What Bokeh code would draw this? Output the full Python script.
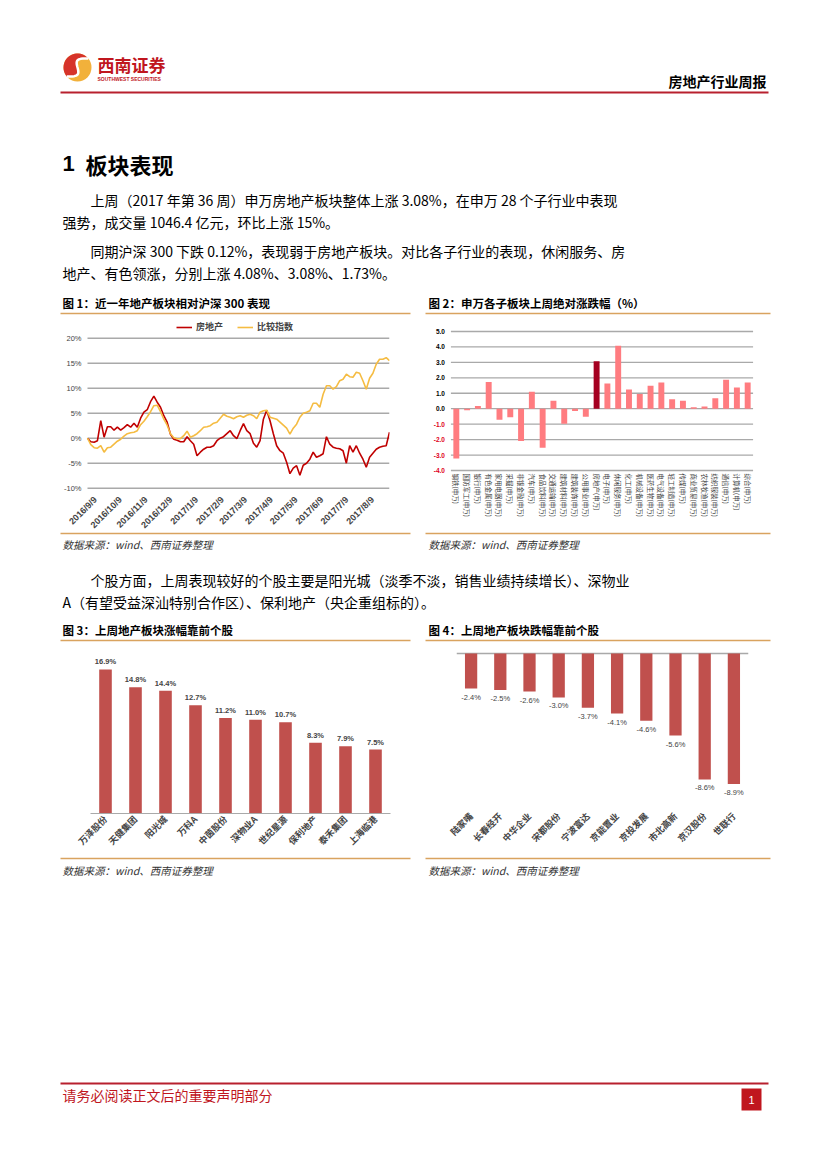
import math
import numpy as np
import pandas as pd
from bokeh.plotting import figure
from bokeh.layouts import column, row
from bokeh.models import (Range1d, FactorRange, FixedTicker, Legend, LegendItem, LabelSet,
                          ColumnDataSource)
from bokeh.core.properties import value
from bokeh.embed import file_html
from bokeh.resources import INLINE

# ---------------- data ----------------
line_dates = [
    "2016-09-09", "2016-09-13", "2016-09-17", "2016-09-21", "2016-09-25", "2016-09-29",
    "2016-10-03", "2016-10-07", "2016-10-11", "2016-10-15", "2016-10-19", "2016-10-23",
    "2016-10-27", "2016-10-31", "2016-11-04", "2016-11-08", "2016-11-12", "2016-11-16",
    "2016-11-20", "2016-11-24", "2016-11-28", "2016-12-02", "2016-12-06", "2016-12-10",
    "2016-12-14", "2016-12-18", "2016-12-22", "2016-12-26", "2016-12-30", "2017-01-03",
    "2017-01-07", "2017-01-11", "2017-01-15", "2017-01-19", "2017-01-23", "2017-01-27",
    "2017-01-31", "2017-02-04", "2017-02-08", "2017-02-12", "2017-02-16", "2017-02-20",
    "2017-02-24", "2017-02-28", "2017-03-04", "2017-03-08", "2017-03-12", "2017-03-16",
    "2017-03-20", "2017-03-24", "2017-03-28", "2017-04-01", "2017-04-05", "2017-04-09",
    "2017-04-13", "2017-04-17", "2017-04-21", "2017-04-25", "2017-04-29", "2017-05-03",
    "2017-05-07", "2017-05-11", "2017-05-15", "2017-05-19", "2017-05-23", "2017-05-27",
    "2017-05-31", "2017-06-04", "2017-06-08", "2017-06-12", "2017-06-16", "2017-06-20",
    "2017-06-24", "2017-06-28", "2017-07-02", "2017-07-06", "2017-07-10", "2017-07-14",
    "2017-07-18", "2017-07-22", "2017-07-26", "2017-07-30", "2017-08-03", "2017-08-07",
    "2017-08-11", "2017-08-15", "2017-08-19", "2017-08-23", "2017-08-27", "2017-08-31",
    "2017-09-04", "2017-09-08"]
# 房地产 (relative to HS300, %)
re_rel = [0.0, -0.7, -0.8, -0.5, 3.5, 0.2, 2.3, 2.3, 1.6, 2.2,
          1.6, 2.1, 2.7, 2.2, 3.0, 2.2, 4.0, 5.2, 5.7, 7.3,
          8.4, 7.2, 6.2, 4.5, 3.2, 0.8, -0.2, -0.4, -0.7, -0.7,
          0.3, -0.5, -1.2, -3.5, -2.8, -2.2, -1.8, -1.8, -1.5, -0.5,
          0.0, 0.3, 0.9, 1.5, 0.5, -0.1, 1.5, 2.9, 1.5, 0.9,
          -1.0, -1.8, -0.5, 3.8, 5.6, 3.5, 0.9, -1.5, -2.5, -3.0,
          -4.8, -7.1, -6.0, -5.5, -7.4, -5.4, -5.0, -4.2, -2.8, -3.8,
          -3.5, -3.1, 0.3, -1.2, -1.8, -2.0, -2.1, -2.5, -5.0, -1.5,
          -2.8, -1.5, -3.0, -4.2, -5.8, -3.8, -3.0, -2.2, -1.8, -1.6,
          -1.5, 1.2]
# 比较指数
hs_rel = [0.0, -1.3, -1.9, -2.0, -1.5, -2.8, -1.9, -1.8, -1.2, -0.6,
          -0.2, 0.4, 0.9, 1.1, 1.2, 1.5, 2.7, 3.4, 4.3, 5.3,
          6.5, 6.6, 5.3, 3.8, 2.6, 0.9, 0.1, -0.1, -0.1, 0.5,
          1.4, 0.2, 0.5, 0.9, 1.5, 2.2, 2.3, 2.5, 3.0, 3.2,
          4.0, 4.8, 4.4, 4.2, 3.9, 4.3, 4.5, 4.2, 4.6, 4.8,
          4.5, 3.9, 5.2, 5.5, 5.6, 4.2, 4.0, 3.8, 3.2, 2.6,
          2.0, 0.8, 2.0, 2.8, 4.2, 5.0, 5.2, 5.5, 7.0, 7.0,
          6.2, 8.8, 10.5, 10.5, 9.8, 10.3, 11.5, 11.8, 12.8, 12.3,
          12.2, 13.2, 13.0, 11.5, 9.8, 12.0, 13.0, 14.8, 15.8, 15.8,
          16.1, 15.5]
month_ticks = ["2016-09-09", "2016-10-09", "2016-11-09", "2016-12-09", "2017-01-09",
               "2017-02-09", "2017-03-09", "2017-04-09", "2017-05-09", "2017-06-09",
               "2017-07-09", "2017-08-09"]
y1_ticks = [-10, -5, 0, 5, 10, 15, 20]

sw_names = ["钢铁", "国防军工", "银行", "有色金属", "家用电器", "采掘", "非银金融", "汽车",
            "食品饮料", "交通运输", "建筑材料", "建筑装饰", "公用事业", "房地产", "电子",
            "休闲服务", "化工", "机械设备", "医药生物", "电气设备", "轻工制造", "传媒",
            "商业贸易", "农林牧渔", "纺织服装", "通信", "计算机", "综合"]
sw_vals = [-3.23, -0.10, 0.17, 1.73, -0.71, -0.56, -2.09, 1.10, -2.52, 0.52,
           -0.97, -0.15, -0.52, 3.08, 1.63, 4.08, 1.25, 0.95, 1.48, 1.70,
           0.62, 0.52, 0.09, 0.15, 0.67, 1.87, 1.38, 1.70]
y2_ticks = [5, 4, 3, 2, 1, 0, -1, -2, -3, -4]

up_names = ["万泽股份", "天健集团", "阳光城", "万科A", "中茵股份", "深物业A", "世纪星源",
            "保利地产", "泰禾集团", "上海临港"]
up_vals = [16.9, 14.8, 14.4, 12.7, 11.2, 11.0, 10.7, 8.3, 7.9, 7.5]

dn_names = ["陆家嘴", "长春经开", "中华企业", "宋都股份", "宁波富达", "京能置业", "京投发展",
            "市北高新", "京汉股份", "世联行"]
dn_vals = [-2.4, -2.5, -2.6, -3.0, -3.7, -4.1, -4.6, -5.6, -8.6, -8.9]

# ---------------- styles ----------------
CJK = "Noto Sans CJK SC"
LAT = "Liberation Sans"
HRED = "#B8202E"
RED = "#C0161E"
TAN = "#D9A35F"
GRID = "#A9A9A9"
W = 823


def deco(y0, h):
    p = figure(width=W, height=h, x_range=Range1d(0, W), y_range=Range1d(y0 + h, y0),
               x_axis_location=None, y_axis_location=None, output_backend="svg",
               toolbar_location=None, min_border=0)
    p.outline_line_color = None
    p.grid.visible = False
    return p


def txt(p, x, y, s, size, color="#000000", style="normal", align="left", font=CJK):
    p.text(x=[x], y=[y], text=[s], text_font=value(font), text_font_size=size,
           text_color=color, text_font_style=style, text_align=align, text_baseline="middle")


def hline(p, x0, x1, y, color, w):
    p.line(x=[x0, x1], y=[y, y], line_color=color, line_width=w)


# ---------------- top block ----------------
top = deco(0, 318)
cx, cy, R = 77, 67, 14
top.circle(x=[cx], y=[cy], radius=R, fill_color="#F2B13B", line_color=None)
th = np.linspace(math.radians(40), math.radians(220), 30)
ox = list(cx + R * np.cos(th))
oy = list(cy - R * np.sin(th))
t2 = np.linspace(0, 1, 20)
sx = list(cx + R * np.cos(math.radians(220)) * (1 - 2 * t2) + 5 * np.sin(2 * math.pi * t2))
sy = list(cy - R * np.sin(math.radians(220)) * (1 - 2 * t2) + 3 * np.sin(2 * math.pi * t2))
top.patch(x=ox + sx, y=oy + sy, fill_color="#D6332A", line_color=None)
top.line(x=sx, y=sy, line_color="white", line_width=2.5)
txt(top, 97, 64, "西南证券", "17px", RED, "bold")
txt(top, 97, 78, "SOUTHWEST SECURITIES", "5px", RED, "bold", font=LAT)
txt(top, 766, 80, "房地产行业周报", "14px", "#000000", "bold", align="right")
hline(top, 60, 768, 92, HRED, 2)
txt(top, 62, 163, "1", "22px", "#000000", "bold", font=LAT)
txt(top, 85, 163, "板块表现", "22px", "#000000", "bold")
txt(top, 90, 199, "上周（2017 年第 36 周）申万房地产板块整体上涨 3.08%，在申万 28 个子行业中表现", "14px")
txt(top, 62, 221, "强势，成交量 1046.4 亿元，环比上涨 15%。", "14px")
txt(top, 90, 250, "同期沪深 300 下跌 0.12%，表现弱于房地产板块。对比各子行业的表现，休闲服务、房", "14px")
txt(top, 62, 272, "地产、有色领涨，分别上涨 4.08%、3.08%、1.73%。", "14px")
txt(top, 62, 302, "图 1：近一年地产板块相对沪深 300 表现", "11.5px", "#000000", "bold")
txt(top, 428, 302, "图 2：申万各子板块上周绝对涨跌幅（%）", "11.5px", "#000000", "bold")
hline(top, 60, 410, 313, TAN, 1.6)
hline(top, 425, 770, 313, TAN, 1.6)

# ---------------- row 1 (shared frame: y 320 -> 530) ----------------
dts = pd.to_datetime(line_dates)
px_per_day = 302 / (dts[-1] - dts[0]).days
x1_start = dts[0] - pd.Timedelta(days=32 / px_per_day)   # room for the tick labels
c1 = figure(width=416, height=212, x_axis_type="datetime",
            x_range=Range1d(x1_start.to_pydatetime(), dts[-1].to_pydatetime()),
            y_range=Range1d(-18.46, 23.54), x_axis_location=None, y_axis_location=None,
            output_backend="svg", toolbar_location=None, min_border_left=55,
            min_border_right=27, min_border_top=2, min_border_bottom=0)
c1.outline_line_color = None
c1.grid.visible = False
gsrc = ColumnDataSource(dict(x0=[dts[0]] * len(y1_ticks), x1=[dts[-1]] * len(y1_ticks), y=y1_ticks))
c1.segment(x0="x0", x1="x1", y0="y", y1="y", source=gsrc, line_color=GRID, line_width=1.5)
r_re = c1.line(x=dts, y=re_rel, line_color="#C00000", line_width=1.6)
r_hs = c1.line(x=dts, y=hs_rel, line_color="#F5BC42", line_width=1.6)
ylsrc = ColumnDataSource(dict(x=[dts[0]] * len(y1_ticks), y=y1_ticks,
                              text=["%d%%" % t for t in y1_ticks]))
c1.add_layout(LabelSet(x="x", y="y", text="text", source=ylsrc, x_offset=-6,
                       text_align="right", text_baseline="middle",
                       text_font=value(LAT), text_font_size="7.5px"))
tick_dt = pd.to_datetime(month_ticks)
dsrc = ColumnDataSource(dict(x=tick_dt, y=[min(y1_ticks)] * len(tick_dt),
                             text=["%d/%d/%d" % (d.year, d.month, d.day) for d in tick_dt]))
c1.add_layout(LabelSet(x="x", y="y", text="text", source=dsrc, angle=math.pi / 4,
                       x_offset=8, y_offset=-10, text_align="right", text_baseline="middle",
                       text_font=value(LAT), text_font_style="bold", text_font_size="9px"))
leg = Legend(items=[LegendItem(label="房地产", renderers=[r_re]),
                    LegendItem(label="比较指数", renderers=[r_hs])],
             orientation="horizontal", location=(121, 197))
leg.label_text_font = CJK
leg.label_text_font_style = "bold"
leg.label_text_font_size = "9px"
leg.label_height = 12
leg.glyph_height = 12
leg.glyph_width = 16
leg.label_standoff = 4
leg.spacing = 14
leg.padding = 0
leg.margin = 0
leg.border_line_color = None
leg.background_fill_alpha = 0
c1.add_layout(leg)

sw_labels = [n + "(申万)" for n in sw_names]
sw_colors = ["#A50021" if n == "房地产" else "#FF7C80" for n in sw_names]
c2 = figure(width=407, height=212,
            x_range=FactorRange(factors=sw_labels, range_padding=1.8, range_padding_units="absolute"),
            y_range=Range1d(-7.885, 5.712), x_axis_location=None, y_axis_location=None,
            output_backend="svg", toolbar_location=None, min_border_left=15,
            min_border_right=51, min_border_top=2, min_border_bottom=0)
c2.outline_line_color = None
c2.grid.visible = False
c2.segment(x0=0, x1=len(sw_labels), y0=y2_ticks, y1=y2_ticks, line_color=GRID, line_width=1.3)
c2.vbar(x=sw_labels, top=sw_vals, width=0.55, fill_color=sw_colors, line_color=None)
ysrc = ColumnDataSource(dict(x=[-0.55] * len(y2_ticks), y=y2_ticks,
                             text=["%.1f" % t for t in y2_ticks],
                             color=["#000000" if t >= 0 else "#E0001B" for t in y2_ticks]))
c2.add_layout(LabelSet(x="x", y="y", text="text", source=ysrc, text_color="color",
                       text_align="right", text_baseline="middle",
                       text_font=value(LAT), text_font_size="6.5px", text_font_style="bold"))
csrc = ColumnDataSource(dict(x=sw_labels, y=[min(y2_ticks)] * len(sw_labels), text=sw_labels))
c2.add_layout(LabelSet(x="x", y="y", y_offset=-3, angle=-math.pi / 2, text="text", source=csrc,
                       text_color="#404040", text_align="left", text_baseline="middle",
                       text_font=value(CJK), text_font_size="6.5px"))

# ---------------- middle block ----------------
mid = deco(530, 115)
hline(mid, 60, 410, 533, TAN, 1.6)
hline(mid, 425, 770, 533, TAN, 1.6)
txt(mid, 62, 544, "数据来源：wind、西南证券整理", "10.5px", "#333333", "italic")
txt(mid, 428, 544, "数据来源：wind、西南证券整理", "10.5px", "#333333", "italic")
txt(mid, 90, 579, "个股方面，上周表现较好的个股主要是阳光城（淡季不淡，销售业绩持续增长）、深物业", "14px")
txt(mid, 62, 601, "A（有望受益深汕特别合作区）、保利地产（央企重组标的）。", "14px")
txt(mid, 62, 629, "图 3：上周地产板块涨幅靠前个股", "11.5px", "#000000", "bold")
txt(mid, 428, 629, "图 4：上周地产板块跌幅靠前个股", "11.5px", "#000000", "bold")
hline(mid, 60, 410, 640, TAN, 1.6)
hline(mid, 425, 770, 640, TAN, 1.6)

# ---------------- row 2 (shared frame: y 645 -> 814) ----------------
BAR = "#C0504D"
src3 = ColumnDataSource(dict(n=up_names, v=up_vals, t=["%.1f%%" % v for v in up_vals]))
c3 = figure(width=416, height=210, x_range=FactorRange(factors=up_names),
            y_range=Range1d(0, 19.7), y_axis_location=None, output_backend="svg",
            toolbar_location=None, min_border_left=90, min_border_right=26,
            min_border_top=0, min_border_bottom=41)
c3.outline_line_color = None
c3.vbar(x="n", top="v", width=0.42, source=src3, fill_color=BAR, line_color=None)
c3.grid.visible = False
c3.xaxis.axis_line_color = GRID
c3.xaxis.axis_line_width = 1.2
c3.xaxis.major_tick_line_color = None
c3.xaxis.major_tick_out = 0
c3.xaxis.major_label_orientation = math.pi / 4
c3.xaxis.major_label_text_font = CJK
c3.xaxis.major_label_text_font_style = "bold"
c3.xaxis.major_label_text_font_size = "9px"
c3.xaxis.major_label_standoff = 4
c3.add_layout(LabelSet(x="n", y="v", text="t", source=src3, y_offset=3,
                       text_align="center", text_baseline="bottom",
                       text_font=value(LAT), text_font_size="7.5px", text_font_style="bold"))

src4 = ColumnDataSource(dict(n=dn_names, v=dn_vals, t=["%.1f%%" % v for v in dn_vals]))
c4 = figure(width=407, height=210, x_range=FactorRange(factors=dn_names),
            y_range=Range1d(-10.92, 0.54), y_axis_location=None, output_backend="svg",
            toolbar_location=None, min_border_left=40, min_border_right=75,
            min_border_top=0, min_border_bottom=41)
c4.outline_line_color = None
c4.vbar(x="n", top="v", width=0.42, source=src4, fill_color=BAR, line_color=None)
c4.xgrid.visible = False
c4.ygrid.ticker = FixedTicker(ticks=[0])
c4.ygrid.grid_line_color = GRID
c4.ygrid.grid_line_width = 1.3
c4.xaxis.axis_line_color = None
c4.xaxis.major_tick_line_color = None
c4.xaxis.major_tick_out = 0
c4.xaxis.major_label_orientation = math.pi / 4
c4.xaxis.major_label_text_font = CJK
c4.xaxis.major_label_text_font_style = "bold"
c4.xaxis.major_label_text_font_size = "9px"
c4.xaxis.major_label_standoff = 1
c4.add_layout(LabelSet(x="n", y="v", text="t", source=src4, y_offset=-4,
                       text_align="center", text_baseline="top",
                       text_font=value(LAT), text_font_size="7.5px"))

# ---------------- bottom block ----------------
bot = deco(855, 310)
hline(bot, 60, 410, 858, TAN, 1.6)
hline(bot, 425, 770, 858, TAN, 1.6)
txt(bot, 62, 870, "数据来源：wind、西南证券整理", "10.5px", "#333333", "italic")
txt(bot, 428, 870, "数据来源：wind、西南证券整理", "10.5px", "#333333", "italic")
hline(bot, 60, 768, 1083, HRED, 2)
txt(bot, 62, 1094, "请务必阅读正文后的重要声明部分", "14px", RED)
bot.quad(left=[741], right=[761], top=[1088], bottom=[1110], fill_color=RED, line_color=None)
txt(bot, 751, 1099, "1", "11px", "#FFFFFF", align="center", font=LAT)

page = column(top, row(c1, c2), mid, row(c3, c4), bot)
open("out.html", "w").write(file_html(page, INLINE))
